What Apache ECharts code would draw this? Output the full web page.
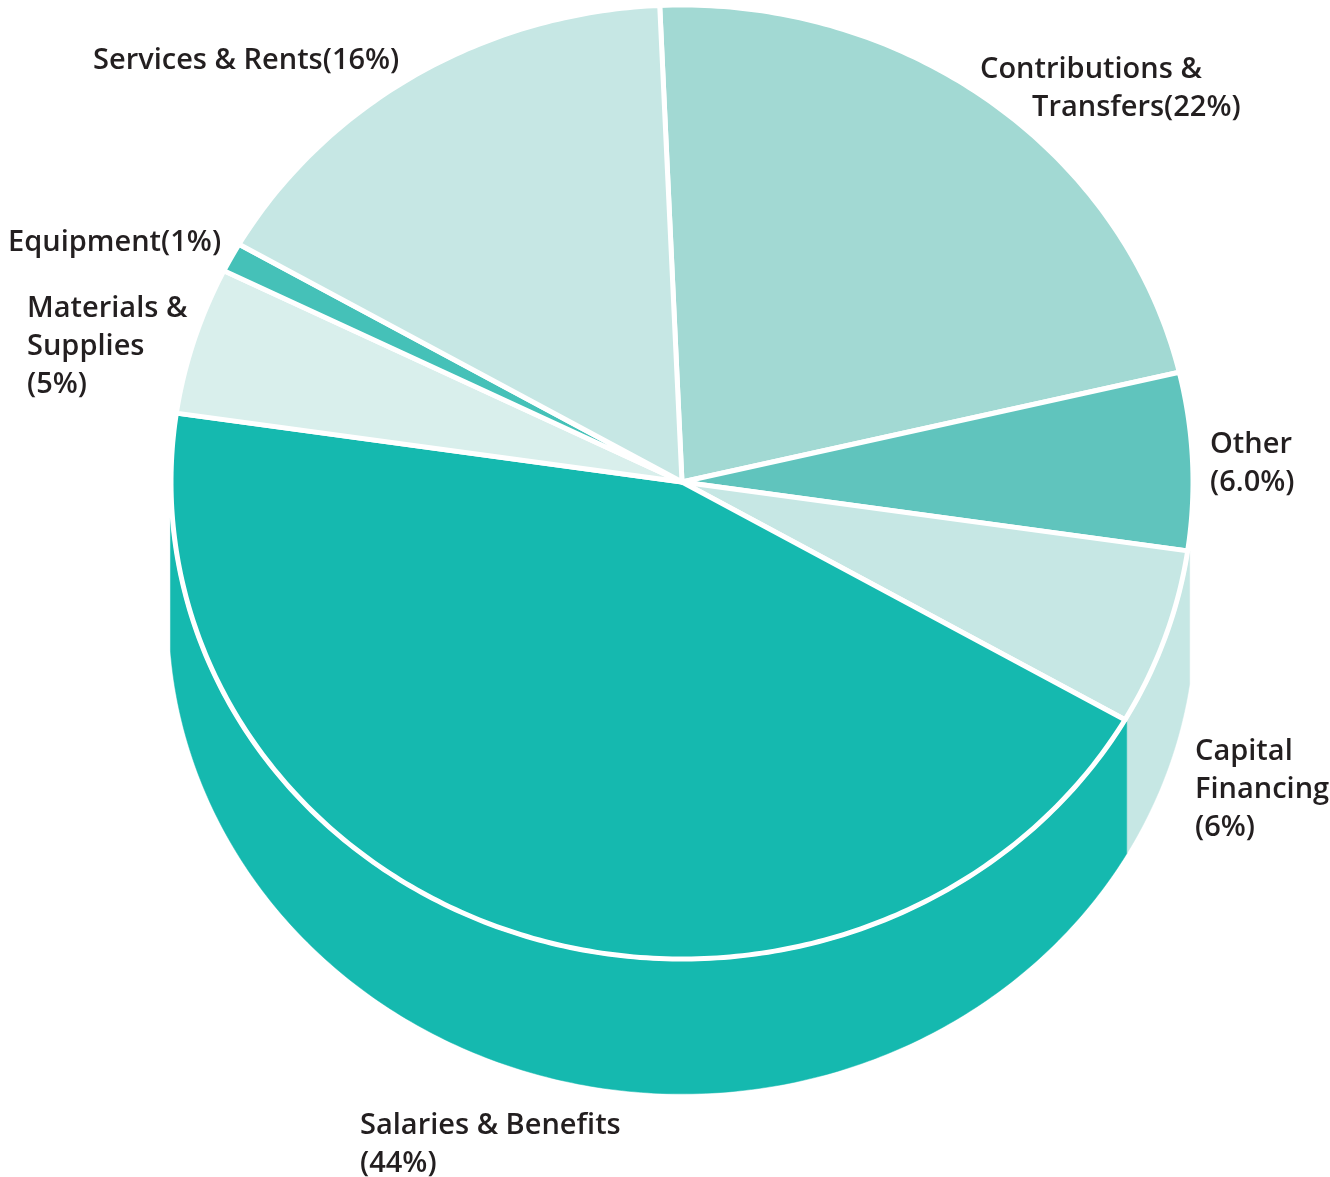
<!DOCTYPE html>
<html>
<head>
<meta charset="utf-8">
<script src="https://cdn.jsdelivr.net/npm/echarts@6/dist/echarts.min.js"></script>
<style>
  html, body { margin: 0; padding: 0; background: #ffffff; }
  #chart { width: 1330px; height: 1177px; }
</style>
</head>
<body>
<div id="chart"></div>
<script>
// Expenditure shares, clockwise from the top
const categories = ['Contributions & Transfers', 'Other', 'Capital Financing', 'Salaries & Benefits', 'Materials & Supplies', 'Equipment', 'Services & Rents'];
const shares = [22, 6.0, 6, 44, 5, 1, 16];
const shareDecimals = [0, 1, 0, 0, 0, 0, 0];
const labelLines = [
  ['Contributions &', 'Transfers({v}%)'],
  ['Other', '({v}%)'],
  ['Capital', 'Financing', '({v}%)'],
  ['Salaries & Benefits', '({v}%)'],
  ['Materials &', 'Supplies', '({v}%)'],
  ['Equipment({v}%)'],
  ['Services & Rents({v}%)']
];

// Styling and layout
const sliceColors = ['#a2d9d3', '#60c4bd', '#c6e7e4', '#15b9af', '#d9efec', '#45c1b8', '#c6e7e4'];
const wallColors = ['', '', '#c6e7e4', '#15b9af', '', '', ''];
const wallStopShare = [null, null, null, 74.5, null, null, null];
const labelAnchors = [[980, 70], [1210, 445], [1195, 752], [360, 1126], [27, 309], [8, 243], [93, 61]];
const labelIndents = [[0, 52], [0, 0], [0, 0, 0], [0, 0], [0, 0, 0], [0], [0]];
const LINE_HEIGHT = 38;
const FONT = '600 29px "Open Sans"';
const RX = 511, RY = 477, DEPTH = 133;

const starts = [];
shares.reduce((acc, v, i) => { starts.push(acc); return acc + v; }, 0);

const chart = echarts.init(document.getElementById('chart'), null, { renderer: 'canvas' });

function ellipsePoint(api, a, grow) {
  const c = api.coord([0, 0]);
  const p = api.coord([1, a]);
  const k = (RX + grow) / RX;
  return [c[0] + (p[0] - c[0]) * k, c[1] + (p[1] - c[1]) * k * RY / RX];
}

function arc(api, a0, a1, grow, dy) {
  const pts = [];
  const n = Math.max(4, Math.ceil(Math.abs(a1 - a0) / 0.2));
  for (let k = 0; k <= n; k++) {
    const p = ellipsePoint(api, a0 + (a1 - a0) * k / n, grow);
    pts.push([p[0], p[1] + dy]);
  }
  return pts;
}

function renderItem(params, api) {
  const i = params.dataIndex;
  const a0 = api.value(1);
  const a1 = api.value(2);
  const c = api.coord([0, 0]);
  const children = [];

  if (wallColors[i]) {
    const stop = wallStopShare[i] == null ? a1 : wallStopShare[i];
    const top = arc(api, a0, stop, 2, 0);
    const bottom = arc(api, a0, stop, 2, DEPTH).reverse();
    children.push({
      type: 'polygon',
      z2: 1,
      shape: { points: top.concat(bottom) },
      style: { fill: wallColors[i], stroke: wallColors[i], lineWidth: 0.5 }
    });
  }

  children.push({
    type: 'polygon',
    z2: 10,
    shape: { points: [c].concat(arc(api, a0, a1, 0, 0)) },
    style: { fill: sliceColors[i], stroke: '#ffffff', lineWidth: 5, lineJoin: 'round' }
  });

  const v = shares[i].toFixed(shareDecimals[i]);
  labelLines[i].forEach((line, j) => {
    children.push({
      type: 'text',
      z2: 20,
      style: {
        text: line.replace('{v}', v),
        x: labelAnchors[i][0] + labelIndents[i][j],
        y: labelAnchors[i][1] + j * LINE_HEIGHT,
        fill: '#231f20',
        font: FONT,
        align: 'left',
        verticalAlign: 'middle',
        textAlign: 'left',
        textVerticalAlign: 'middle'
      }
    });
  });

  return { type: 'group', children };
}

chart.setOption({
  backgroundColor: '#ffffff',
  animation: false,
  polar: { center: [682, 482], radius: RX },
  angleAxis: { type: 'value', min: 0, max: 100, startAngle: 92.5, clockwise: true, show: false },
  radiusAxis: { type: 'value', min: 0, max: 1, show: false },
  series: [{
    type: 'custom',
    coordinateSystem: 'polar',
    clip: false,
    renderItem: renderItem,
    dimensions: ['radius', 'start', 'end'],
    encode: { radius: 0, angle: [1, 2] },
    data: shares.map((v, i) => ({ name: categories[i], value: [1, starts[i], starts[i] + v] }))
  }]
});
</script>
</body>
</html>
